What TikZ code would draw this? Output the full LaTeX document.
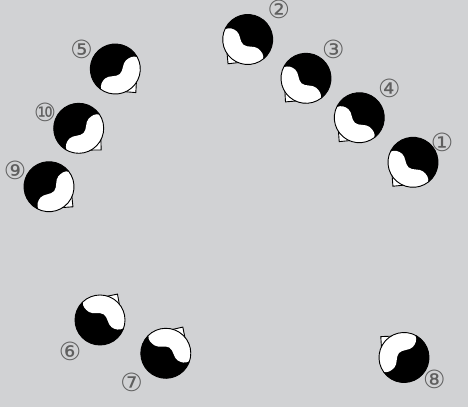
\documentclass[tikz,border=0pt]{standalone}
\usepackage{fontspec}
\usepackage{tikz}
\usetikzlibrary{positioning}
\newfontfamily\circfont{DejaVu Sans}
\definecolor{paneGray}{RGB}{209, 210, 212}
\definecolor{labelGray}{RGB}{95, 95, 95}

\begin{document}
\begin{tikzpicture}[
    x=1pt, y=1pt,
    numlabel/.style={
        inner sep=0pt,
        font=\circfont\fontsize{25}{25}\selectfont,
        text=labelGray
    },
    head/.pic={
        \begin{scope}[scale=25, line width=0.9pt]
        % nose
        \filldraw[fill=white, draw=black, line join=miter] (-0.4,-0.84) -- (0,-1.25) -- (0.4,-0.84) -- cycle;
        % hair
        \fill[black] (0,0) circle[radius=1];
        % face
        \fill[white] (195:1) .. controls (-0.88,-0.08) and (-0.72,-0.02) .. (-0.55,-0.02)
            .. controls (-0.35,-0.02) and (-0.2,-0.27) .. (0,-0.27)
            .. controls (0.2,-0.27) and (0.35,-0.02) .. (0.55,-0.02)
            .. controls (0.72,-0.02) and (0.9,-0.06) .. (-13:1)
            arc[start angle=-13, end angle=-165, radius=1] -- cycle;
        \draw (0,0) circle[radius=1];
        \end{scope}
    }
]

% Background
\fill[paneGray] (0,0) rectangle (468,407);
\useasboundingbox (0,0) rectangle (468,407);

% Upper right row
\pic[rotate=-40] (h1) at (413,244.7) {head};
\pic[rotate=-39] (h2) at (247.7,367.5) {head};
\pic[rotate=-41] (h3) at (306,328.7) {head};
\pic[rotate=-40] (h4) at (359.3,289.3) {head};

% Left row
\pic[rotate=41] (h5) at (115.3,338) {head};
\pic[rotate=46] (h10) at (78.7,278.7) {head};
\pic[rotate=50] (h9) at (49,220.3) {head};

% Bottom
\pic[rotate=146] (h6) at (100,87) {head};
\pic[rotate=147] (h7) at (165.8,53.7) {head};
\pic[rotate=-132] (h8) at (404,49.5) {head};

% Numbers
\node[numlabel] (l1) at (442,264.5) {①};
\node[numlabel] (l2) at (278.8,397.8) {②};
\node[numlabel] (l3) at (333.3,357.5) {③};
\node[numlabel] (l4) at (389.3,318.7) {④};
\node[numlabel] (l5) at (81.7,358) {⑤};
\node[numlabel] (l6) at (70,55.3) {⑥};
\node[numlabel] (l7) at (131.7,24.5) {⑦};
\node[numlabel] (l8) at (434.3,27.3) {⑧};
\node[numlabel] (l9) at (15,236.5) {⑨};
\node[numlabel] (l10) at (45,294.2) {⑩};

\end{tikzpicture}
\end{document}
